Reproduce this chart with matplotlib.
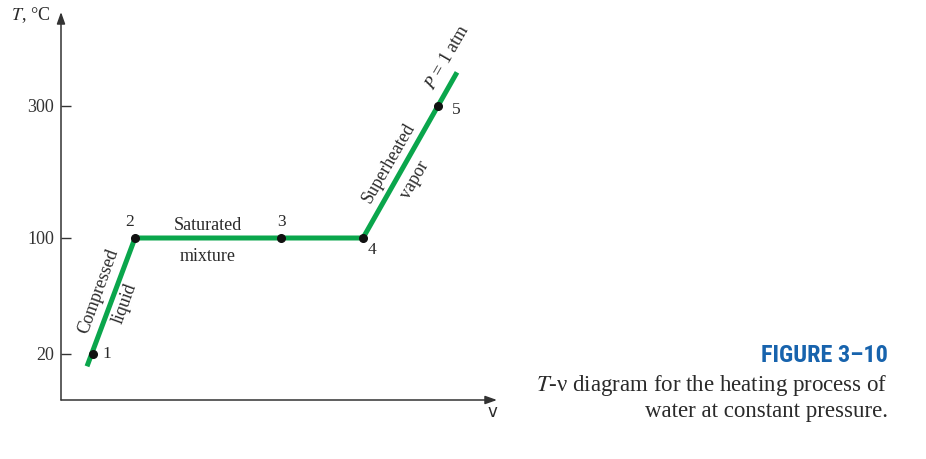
import numpy as np
import matplotlib.pyplot as plt

# state points on the constant pressure line (P = 1 atm)
point_labels = ['1', '2', '3', '4', '5']
v_points = [0.32, 0.74, 2.20, 3.02, 3.77]
T_points = [20, 100, 100, 100, 300]
# line runs a little past states 1 and 5
v_line = [0.26, 0.74, 2.20, 3.02, 3.96]
T_line = [11.5, 100, 100, 100, 351]
T_ticks = [20, 100, 300]

# the T axis is not to scale in the textbook sketch
T_knots = [-100, 20, 100, 300, 700]
P_knots = [-69, 105, 221, 353, 617]

def fwd(t):
    return np.interp(t, T_knots, P_knots)

def inv(p):
    return np.interp(p, P_knots, T_knots)

plt.rcParams['font.family'] = ['Liberation Serif', 'DejaVu Serif']
plt.rcParams['mathtext.fontset'] = 'stix'
fig = plt.figure(figsize=(9.26, 4.59), dpi=100)
ax = fig.add_axes([61/926, 59/459, 436/926, 388/459])
ax.set_yscale('function', functions=(fwd, inv))
ax.set_xlim(0, 4.36)
ax.set_ylim(inv(59), inv(447))

axc = '#333333'
for s in ax.spines.values():
    s.set_visible(False)
arrow = dict(arrowstyle='-|>,head_length=0.7,head_width=0.25', color=axc, lw=1.1, shrinkA=0, shrinkB=0)
ax.annotate('', xy=(0, 1), xytext=(0, 0), xycoords='axes fraction', arrowprops=arrow)
ax.annotate('', xy=(1, 0), xytext=(0, 0), xycoords='axes fraction', arrowprops=arrow)

ax.set_xticks([])
ax.set_yticks(T_ticks)
ax.set_yticklabels([str(t) for t in T_ticks])
ax.yaxis.set_minor_locator(plt.NullLocator())
ax.tick_params(axis='y', direction='in', length=7, width=1, color=axc, pad=5,
               labelsize=13, labelcolor='#333333')

ax.plot(v_line, T_line, color='#0aa64c', lw=3.6, solid_capstyle='butt', solid_joinstyle='miter', zorder=2)
ax.plot(v_points, T_points, 'o', color='#111111', ms=5.5, zorder=3)

tc = '#2a2a2a'
offs = [(7, 0, 'left', 'center'), (-4, 6, 'center', 'bottom'), (0, 6, 'center', 'bottom'),
        (3, -3, 'left', 'top'), (10, -3, 'left', 'center')]
for lab, v, t, (dx, dy, ha, va) in zip(point_labels, v_points, T_points, offs):
    ax.annotate(lab, (v, t), xytext=(dx, dy), textcoords='offset points', ha=ha, va=va,
                fontsize=12.5, color=tc)

ax.annotate('Saturated', (1.47, 100), xytext=(0, 3), textcoords='offset points',
            ha='center', va='bottom', fontsize=13, color=tc)
ax.annotate('mixture', (1.47, 100), xytext=(0, -7), textcoords='offset points',
            ha='center', va='top', fontsize=13, color=tc)

ax.text(0.38, 63, 'Compressed', rotation=70, ha='center', va='center', fontsize=13, color=tc)
ax.text(0.64, 55, 'liquid', rotation=70, ha='center', va='center', fontsize=13, color=tc)
ax.text(3.28, 213, 'Superheated', rotation=60, ha='center', va='center', fontsize=13, color=tc)
ax.text(3.54, 188, 'vapor', rotation=60, ha='center', va='center', fontsize=13, color=tc)
ax.text(3.86, 374, '$P$ = 1 atm', rotation=60, ha='center', va='center', fontsize=13, color=tc)

fig.text(31/926, 1 - 15/459, '$T$, °C', ha='center', va='center', fontsize=13, color=tc)
fig.text(492/926, 1 - 412/459, 'v', ha='center', va='center', fontsize=12,
         color=tc, family='DejaVu Sans')

fig.text(888/926, 1 - 356/459, 'FIGURE 3–10', ha='right', va='center', fontsize=17.5,
         fontweight='bold', color='#1763ad', family=['Roboto Condensed', 'Roboto', 'DejaVu Sans'])
fig.text(888/926, 1 - 385/459, '$T$-ν diagram for the heating process of', ha='right', va='center',
         fontsize=16.5, color=tc)
fig.text(888/926, 1 - 411/459, 'water at constant pressure.', ha='right', va='center',
         fontsize=16.5, color=tc)

fig.savefig('out.png', dpi=100)
